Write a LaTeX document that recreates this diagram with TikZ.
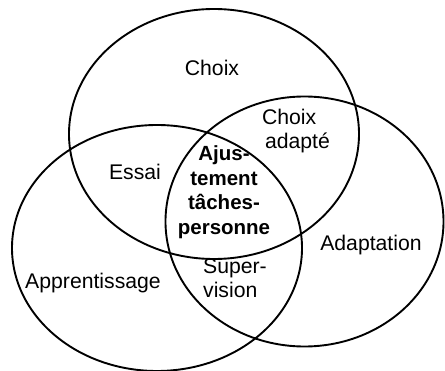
\documentclass[tikz,border=0pt]{standalone}
\usepackage{fontspec}
\setmainfont{Liberation Sans}
\tikzset{
  venn/.style={line width=1.9pt},
  lbl/.style={font=\fontsize{21.2}{24.5}\selectfont, inner sep=0pt},
  lblb/.style={font=\fontsize{20.5}{24.5}\selectfont\bfseries, inner sep=0pt, align=center},
}
\begin{document}
\begin{tikzpicture}[x=1pt,y=-1pt]
\useasboundingbox (0,0) rectangle (445,371);
\draw[venn] (214,134) ellipse [x radius=145pt, y radius=125pt];
\draw[venn] (157,248) ellipse [x radius=145pt, y radius=123pt];
\draw[venn] (304.5,221.5) ellipse [x radius=139pt, y radius=125pt];
\node[lbl] (choix) at (212,68) {Choix};
\node[lbl, align=left] (choixad) at (296,131) {Choix\\\hspace*{3pt}adapté};
\node[lbl] (essai) at (135,172) {Essai};
\node[lblb] (ajust) at (224,192) {Ajus-\\tement\\tâches-\\personne};
\node[lbl] (adapt) at (371,245) {Adaptation};
\node[lbl] (appr) at (93,283) {Apprentissage};
\node[lbl, align=left] (super) at (235,278) {Super-\\vision};
\end{tikzpicture}
\end{document}
